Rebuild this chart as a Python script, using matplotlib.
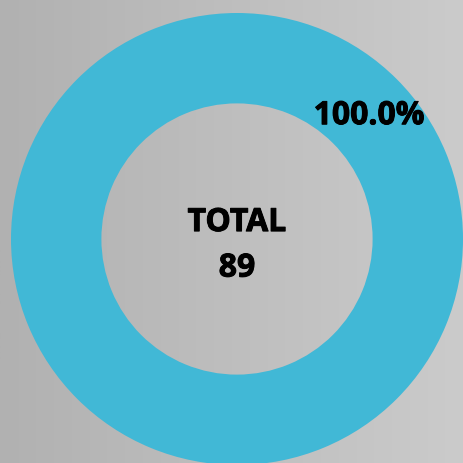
import numpy as np
import matplotlib
matplotlib.use("Agg")
import matplotlib.pyplot as plt
import matplotlib.patheffects as pe
from matplotlib.colors import LinearSegmentedColormap

labels = ["TOTAL"]
values = [89]
total_label = "TOTAL"
colors = ["#41b8d6"]

plt.rcParams['font.family'] = ['Open Sans', 'DejaVu Sans']

fig = plt.figure(figsize=(4.64, 4.64), dpi=100)

# background gradient
bg = fig.add_axes([0, 0, 1, 1])
grad = np.linspace(0, 1, 256).reshape(1, -1)
cmap = LinearSegmentedColormap.from_list("bg", ["#b1b1b1", "#cbcbcb"])
bg.imshow(grad, aspect='auto', cmap=cmap, extent=[0, 1, 0, 1])
bg.axis('off')

ax = fig.add_axes([0, 0, 1, 1])
ax.set_facecolor('none')
R = 226.0
cx, cy = 237.0, 464 - 240.0
stroke = [pe.withStroke(linewidth=0.7, foreground='black')]
wedges, texts, autotexts = ax.pie(values, colors=colors, startangle=-137,
                                  autopct='%1.1f%%', pctdistance=0.80,
                                  wedgeprops=dict(width=0.40),
                                  textprops=dict(fontsize=23, fontweight='bold', color='black',
                                                 path_effects=stroke))
ax.set_xlim(-cx / R, (464 - cx) / R)
ax.set_ylim(-cy / R, (464 - cy) / R)
ax.set_aspect('auto')
ax.axis('off')

ax.text(0, -0.028, f"{total_label}\n{sum(values)}", ha='center', va='center',
        fontsize=23, fontweight='bold', color='black', linespacing=1.5,
        path_effects=stroke)

fig.savefig("out.png", dpi=100)
